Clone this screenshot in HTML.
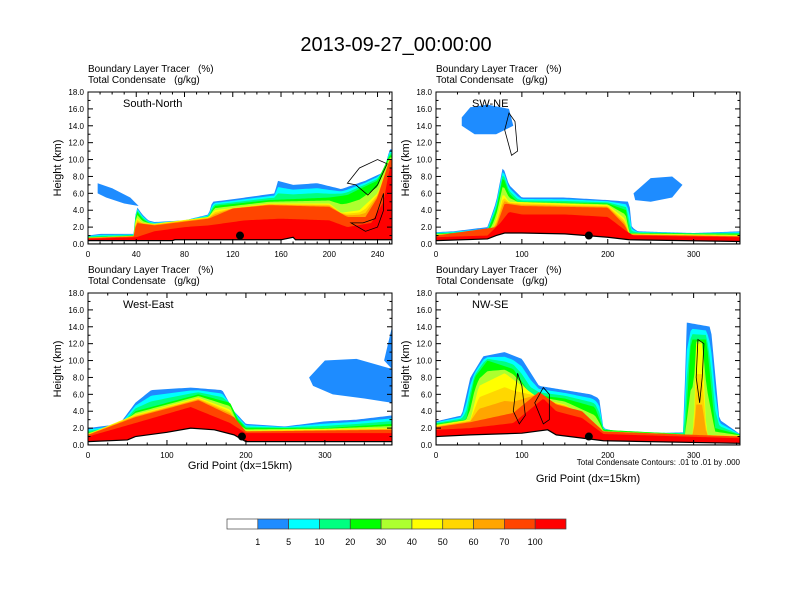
<!DOCTYPE html>
<html><head><meta charset="utf-8"><style>
body{margin:0;background:#fff}
svg{display:block;font-family:"Liberation Sans",Arial,sans-serif}
</style></head><body>
<svg id="c" width="792" height="612" viewBox="0 0 792 612"></svg>
<script>
// ---- data ----
const panelNames = ["South-North","SW-NE","West-East","NW-SE"];
const xMax = [252,354,385,354];
const xTicks = [[0,40,80,120,160,200,240],[0,100,200,300],[0,100,200,300],[0,100,200,300]];
const yTicks = [0,2,4,6,8,10,12,14,16,18];
const dotX = [126,178,195,178];
const blueTop = [
 [[0,1],[10,1.2],[38,1.2],[40,4.5],[45,3.5],[50,2.8],[55,2.6],[80,2.8],[100,3.5],[103,5],[120,5.3],[155,6],[157,7.5],[170,7],[190,7.2],[210,6.5],[230,7.5],[245,8.5],[250,11.2],[252,11.2]],
 [[0,1.4],[20,1.5],[60,2],[70,5],[78,9.2],[85,7],[95,6],[100,5.5],[150,5.5],[200,5.2],[225,5],[228,2],[235,1.5],[300,1.3],[354,1.5]],
 [[0,2],[40,2.5],[60,5],[80,6.5],[130,6.8],[170,6.5],[185,4],[200,2.5],[250,2.2],[300,2.8],[340,3],[385,3.5]],
 [[0,2.8],[30,3.5],[40,8],[55,10.5],[80,11],[100,10.2],[120,7],[150,6.5],[180,6],[190,5.5],[195,2],[220,1.3],[288,1.5],[292,14.5],[320,14],[330,3],[354,1.3]]
];
const greenTop = [
 [[0,0.8],[38,1],[40,4],[45,3],[50,2.5],[55,2.3],[100,3.2],[105,4.5],[150,5.2],[200,5.5],[215,5.8],[225,6.5],[240,7.5],[250,10.5],[252,10.5]],
 [[0,1.2],[60,1.5],[70,4],[78,8],[85,6],[95,5],[200,4.8],[222,4],[225,1.3],[354,1.2]],
 [[0,1.5],[40,2],[60,4],[100,5],[140,6],[180,5],[190,3],[200,2],[300,2],[385,2.5]],
 [[0,2.5],[35,3],[45,8],[60,10],[90,9],[110,6],[150,5.5],[185,4.5],[195,1.8],[290,1.3],[297,12.5],[315,12.5],[325,2],[354,1.2]]
];
const yellowTop = [
 [[0,0.75],[38,0.95],[40,3.2],[45,2.5],[55,2.4],[100,3.2],[105,4],[150,4.8],[200,4.8],[210,3.7],[225,4],[240,6],[250,10],[252,10]],
 [[0,1.1],[65,1.5],[72,3.5],[78,6],[85,5],[200,4.6],[220,3],[225,1.2],[354,1]],
 [[0,1.3],[60,3.6],[140,5.6],[180,4.2],[190,2],[200,1.7],[385,2]],
 [[0,2.3],[40,3],[50,7],[80,8.5],[100,7],[120,5.5],[150,4.8],[190,2.2],[195,1.5],[300,1.2],[303,12],[310,12],[315,1.2],[354,1.1]]
];
const orangeTop = [
 [[0,0.7],[38,0.9],[40,2.5],[55,2.2],[100,3],[120,4.2],[150,4.6],[200,4.4],[215,3.2],[230,3.2],[240,5.5],[250,10],[252,10]],
 [[0,1],[70,2],[80,4.8],[100,4.5],[200,4.3],[220,2.2],[225,1.1],[354,0.9]],
 [[0,1.2],[60,3.3],[140,5.3],[185,3.3],[200,1.6],[385,1.8]],
 [[0,2.1],[40,2.7],[90,3.8],[120,6.3],[140,4.8],[170,4],[195,1.6],[354,1]]
];
const redTop = [
 [[0,0.6],[40,0.8],[55,1.5],[80,2],[100,2.2],[130,2.8],[160,3],[200,2.8],[215,2],[235,2.5],[245,5],[250,9],[252,9]],
 [[0,0.8],[60,1],[75,2.5],[85,3.8],[100,3.5],[150,3.5],[200,3.2],[222,1.5],[230,1],[354,0.8]],
 [[0,1],[60,2.6],[130,4.5],[180,2.6],[200,1.4],[385,1.4]],
 [[0,1.8],[40,2],[90,2.6],[125,5.5],[140,4],[170,3.2],[195,1.3],[354,0.8]]
];
const terrain = [
 [[0,0.4],[70,0.4],[72,0.5],[160,0.5],[170,0.8],[172,0.5],[252,0.5]],
 [[0,0.4],[60,0.6],[70,1],[80,1.3],[100,1.3],[150,1.2],[200,0.8],[225,0.5],[354,0.3]],
 [[0,0.4],[50,0.6],[60,1],[100,1.5],[130,2],[160,1.8],[185,1.2],[200,0.4],[385,0.4]],
 [[0,1],[40,1.2],[100,1.4],[130,1.8],[140,1.2],[195,0.5],[354,0.2]]
];
const blobs = [
 [0,[[8,7.2],[20,6.6],[35,5.5],[42,4.5],[30,4.8],[15,5.5],[8,6]]],
 [1,[[30,15],[40,16.2],[60,16.5],[85,16],[90,14],[70,13],[45,13],[30,14]]],
 [1,[[230,6],[250,7.8],[275,8],[287,7],[275,5.5],[250,5],[232,5.2]]],
 [2,[[280,8],[300,10],[340,10.2],[385,9],[385,5],[350,5.5],[310,6],[285,7]]],
 [2,[[375,10],[385,14],[385,9]]]
];
const contourRings = [
 [0,[[215,7.2],[225,9],[240,10],[248,9.5],[240,7],[232,5.8],[222,7]]],
 [0,[[218,2.5],[230,1.5],[240,2],[245,4],[245,6],[238,3],[228,2.5]]],
 [1,[[80,13.5],[85,15.5],[92,14.5],[95,11],[88,10.5],[84,12]]],
 [3,[[90,4],[95,8.5],[100,7],[104,3.5],[97,2.5]]],
 [3,[[115,5],[125,6.8],[132,6],[132,3],[125,2.5]]],
 [3,[[303,8],[305,12.5],[312,12],[310,8],[307,5]]]
];
// ---- layout ----
const frames = [[88,92,392,244],[436,92,740,244],[88,293,392,445],[436,293,740,445]];
const cols = ["#1e8cff","#00ffff","#00ff80","#00ff00","#adff2f","#ffff00","#ffd700","#ffa500","#ff4500","#ff0000"];
const NS="http://www.w3.org/2000/svg", svg=document.getElementById('c');
function mk(t,a,p){const e=document.createElementNS(NS,t);for(const k in a)e.setAttribute(k,a[k]);(p||svg).appendChild(e);return e;}
function txt(s,x,y,size,anchor,p,rot){const e=mk('text',{x:x,y:y,'font-size':size,'text-anchor':anchor||'start',fill:'#000'},p);e.setAttribute('xml:space','preserve');e.style.whiteSpace='pre';if(rot)e.setAttribute('transform',rot);e.textContent=s;return e;}
function interp(arr,x){if(x<=arr[0][0])return arr[0][1];for(let i=1;i<arr.length;i++){if(x<=arr[i][0]){const a=arr[i-1],b=arr[i];return a[1]+(b[1]-a[1])*(x-a[0])/(b[0]-a[0]);}}return arr[arr.length-1][1];}

const t=txt("2013-09-27_00:00:00",396,51,20,'middle');



frames.forEach((f,pi)=>{
 const [L,T,R,B]=f, W=R-L, H=B-T, xm=xMax[pi];
 const sx=v=>L+v/xm*W, sy=v=>B-v/18*H;
 const g=mk('g',{});
 
 
 const cid='clip'+pi;
 const cp=mk('clipPath',{id:cid},g); mk('rect',{x:L,y:T,width:W,height:H},cp);
 const pg=mk('g',{'clip-path':'url(#'+cid+')'},g);
 const N=160, xs=[];for(let i=0;i<=N;i++)xs.push(i/N*xm);
 const lv=[blueTop[pi],greenTop[pi],yellowTop[pi],orangeTop[pi],redTop[pi]];
 const tops=x=>{const b=interp(lv[0],x),gn=interp(lv[1],x),y=interp(lv[2],x),o=interp(lv[3],x),r=interp(lv[4],x);
   return [b,(2*b+gn)/3,(b+2*gn)/3,gn,(gn+y)/2,y,(2*y+o)/3,(y+2*o)/3,o,r];};
 blobs.filter(b=>b[0]===pi).forEach(b=>{
   const p=mk('polygon',{points:b[1].map(q=>sx(q[0])+','+sy(q[1])).join(' '),fill:cols[0]},pg);
   
   
 });
 for(let k=0;k<10;k++){
   let pts=sx(0)+','+sy(0);
   xs.forEach(x=>{pts+=' '+sx(x)+','+sy(tops(x)[k]);});
   pts+=' '+sx(xm)+','+sy(0);
   const p=mk('polygon',{points:pts,fill:cols[k]},pg);
   
   
 }
 let tp=sx(0)+','+sy(0);terrain[pi].forEach(q=>{tp+=' '+sx(q[0])+','+sy(q[1]);});tp+=' '+sx(xm)+','+sy(terrain[pi][terrain[pi].length-1][1])+' '+sx(xm)+','+sy(0);
 const tr=mk('polygon',{points:tp,fill:'#fff',stroke:'#000','stroke-width':1.2},pg);
 
 
 contourRings.filter(c=>c[0]===pi).forEach(c=>{
   const p=mk('polygon',{points:c[1].map(q=>sx(q[0])+','+sy(q[1])).join(' '),fill:'none',stroke:'#000','stroke-width':0.8},pg);
   
   
 });
 const d=mk('circle',{cx:sx(dotX[pi]),cy:sy(1),r:4,fill:'#000'},pg);
 
 
 const fr=mk('rect',{x:L,y:T,width:W,height:H,fill:'none',stroke:'#000','stroke-width':1},g);
 
 
 yTicks.forEach(v=>{const y=sy(v);
   mk('line',{x1:L,x2:L+5,y1:y,y2:y,stroke:'#000'},g);mk('line',{x1:R,x2:R-5,y1:y,y2:y,stroke:'#000'},g);
   if(v<18){const y2=sy(v+1);mk('line',{x1:L,x2:L+2.5,y1:y2,y2:y2,stroke:'#000'},g);mk('line',{x1:R,x2:R-2.5,y1:y2,y2:y2,stroke:'#000'},g);}
   const tl=txt(v.toFixed(1),L-4,y+3,8,'end',g);
   
   
 });
 const st=xTicks[pi][1];
 for(let v=0;v<=xm;v+=st/4){const x=sx(v),maj=Math.abs(v/st-Math.round(v/st))<1e-6;const l=maj?5:2.5;
   mk('line',{x1:x,x2:x,y1:B,y2:B-l,stroke:'#000'},g);mk('line',{x1:x,x2:x,y1:T,y2:T+l,stroke:'#000'},g);}
 xTicks[pi].forEach(v=>{const tl=txt(String(v),sx(v),B+13,8,'middle',g);
   
   });
 const yl=txt("Height (km)",L-27,(T+B)/2,11,'middle',g,'rotate(-90 '+(L-27)+' '+((T+B)/2)+')');
 
 
 const h1=txt("Boundary Layer Tracer   (%)",L,T-20,10,'start',g);
 
 
 const h2=txt("Total Condensate   (g/kg)",L,T-9,10,'start',g);
 
 
 const nm=txt(panelNames[pi],pi%2===0?L+35:L+36,T+15,11,'start',g);
 
 
 if(pi>=2){const xt=txt("Grid Point (dx=15km)",(L+R)/2,pi===3?482:469,11,'middle',g);
   
   }
});
const note=txt("Total Condensate Contours: .01 to .01 by .000",740,465,8,'end');


const cbLabels=["1","5","10","20","30","40","50","60","70","100"];
const cbCols=["#ffffff"].concat(cols);
const cb=mk('g',{});


const cbx=227,cbw=339/11;
cbCols.forEach((c,i)=>{const r=mk('rect',{x:cbx+i*cbw,y:519,width:cbw,height:10,fill:c,stroke:'#444','stroke-width':0.7},cb);
  
  });
cbLabels.forEach((s,i)=>{const l=txt(s,cbx+(i+1)*cbw,545,9,'middle',cb);
  
  });
</script>
</body></html>
